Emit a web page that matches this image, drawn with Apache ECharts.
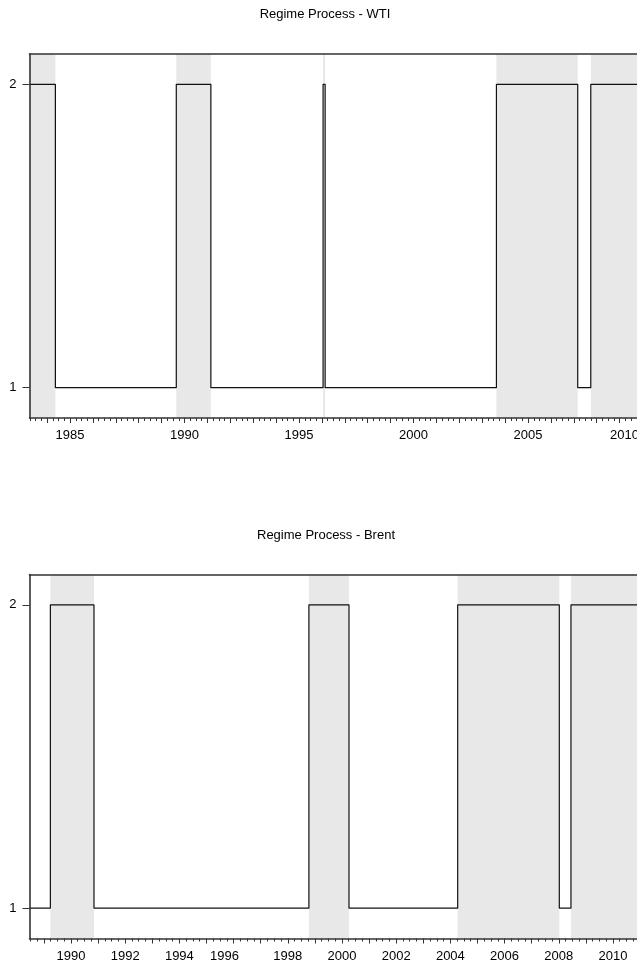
<!DOCTYPE html>
<html><head><meta charset="utf-8">
<script src="https://cdn.jsdelivr.net/npm/echarts@6/dist/echarts.min.js"></script>
<style>html,body{margin:0;padding:0;background:#fff;overflow:hidden}#c{width:700px;height:972px}</style>
</head><body><div id="c"></div>
<script>
// ---------------- data ----------------
const wtiTitle = 'Regime Process - WTI';
const brentTitle = 'Regime Process - Brent';
// decimal-year dates at which the regime switches, and the regime in force from that date on
const wtiSwitchYears = [1983.23, 1984.36, 1989.64, 1991.15, 1996.05, 1996.14, 2003.62, 2007.17, 2007.74];
const wtiRegimes     = [2, 1, 2, 1, 2, 1, 2, 1, 2];
const wtiEndYear = 2011.0;
const brentSwitchYears = [1988.47, 1989.24, 1990.85, 1998.78, 2000.26, 2004.27, 2008.02, 2008.45];
const brentRegimes     = [1, 2, 1, 2, 1, 2, 1, 2];
const brentEndYear = 2011.5;
const wtiTickLabels = [1985, 1990, 1995, 2000, 2005, 2010];
const brentTickLabels = [1990, 1992, 1994, 1996, 1998, 2000, 2002, 2004, 2006, 2008, 2010];
const yTickLabels = [1, 2];

// ---------------- helpers ----------------
function stepPoints(sw, rg, end) {
  const pts = sw.map((y, i) => [y, rg[i]]);
  pts.push([end, rg[rg.length - 1]]);
  return pts;
}
function shadeAreas(sw, rg, end) {
  const a = [];
  rg.forEach((r, i) => {
    if (r === 2) a.push([{ xAxis: sw[i] }, { xAxis: i + 1 < sw.length ? sw[i + 1] : end }]);
  });
  return a;
}
function years(a, b) { const o = []; for (let y = a; y <= b; y++) o.push(y); return o; }

const font = 'Liberation Sans, Arial, sans-serif';
const frame = { show: true, lineStyle: { color: '#333', width: 1.6 } };
const labelRich = {
  n: { fontFamily: font, fontSize: 13, color: '#000' },
  edge: { fontFamily: font, fontSize: 13, color: '#000', padding: [0, 36, 0, 0] },
  l9: { fontFamily: font, fontSize: 13, color: '#000', padding: [0, 18, 0, 0] }
};

function panel(idx, cfg) {
  const grid = { left: cfg.left, top: cfg.top, width: (cfg.max - cfg.min) * cfg.scale, height: 364, containLabel: false };
  const xb = {
    type: 'value', gridIndex: idx, position: 'bottom', min: cfg.min, max: cfg.max,
    minInterval: 1, maxInterval: 1, z: 10,
    axisLine: frame, splitLine: { show: false },
    axisTick: { show: true, length: 5, inside: false, lineStyle: { color: '#333', width: 1 },
      customValues: years(Math.ceil(cfg.min), Math.floor(cfg.max)) },
    minorTick: { show: true, splitNumber: 4, length: 3, lineStyle: { color: '#333', width: 1 } },
    axisLabel: { show: true, customValues: cfg.labels, color: '#000', fontFamily: font, fontSize: 13, margin: 11,
      rich: labelRich,
      formatter: v => { const y = Math.round(v); const k = cfg.labelShift[y] || 'n'; return '{' + k + '|' + y + '}'; } }
  };
  const xt = {
    type: 'value', gridIndex: idx, position: 'top', min: cfg.min, max: cfg.max, z: 10,
    axisLine: frame, axisTick: { show: false }, axisLabel: { show: false }, splitLine: { show: false }
  };
  const y = {
    type: 'value', gridIndex: idx, min: 0.9, max: 2.1, minInterval: 1, maxInterval: 1, z: 10,
    axisLine: frame, splitLine: { show: false },
    axisTick: { show: true, length: 7, lineStyle: { color: '#333', width: 1 }, customValues: yTickLabels },
    axisLabel: { show: true, customValues: yTickLabels, color: '#000', fontFamily: font, fontSize: 13, margin: 13 }
  };
  const shade = {
    type: 'line', xAxisIndex: idx * 2, yAxisIndex: idx, data: [], z: 1, silent: true,
    markArea: { silent: true, itemStyle: { color: '#e8e8e8' }, data: shadeAreas(cfg.sw, cfg.rg, cfg.max) }
  };
  const line = {
    type: 'line', xAxisIndex: idx * 2, yAxisIndex: idx, step: 'end', showSymbol: false, z: 3, silent: true,
    lineStyle: { color: '#111', width: 1.2 }, data: stepPoints(cfg.sw, cfg.rg, cfg.max)
  };
  const title = { text: cfg.title, left: cfg.titleX, top: cfg.titleY, textAlign: 'center',
    textStyle: { fontFamily: font, fontSize: 13, fontWeight: 'normal', color: '#000' } };
  return { grid, xAxes: [xb, xt], y, series: [shade, line], title };
}

const p1 = panel(0, { title: wtiTitle, titleX: 320, titleY: 3, left: 29.5, top: 54, min: wtiSwitchYears[0], max: wtiEndYear,
  scale: 22.9, sw: wtiSwitchYears, rg: wtiRegimes, labels: wtiTickLabels, labelShift: { 2010: 'edge' } });
const p2 = panel(1, { title: brentTitle, titleX: 321, titleY: 524, left: 29.5, top: 574.5, min: brentSwitchYears[0], max: brentEndYear,
  scale: 27.1, sw: brentSwitchYears, rg: brentRegimes, labels: brentTickLabels, labelShift: { 1996: 'l9' } });

const chart = echarts.init(document.getElementById('c'), null, { renderer: 'canvas' });
chart.setOption({
  animation: false,
  backgroundColor: '#fff',
  title: [p1.title, p2.title],
  grid: [p1.grid, p2.grid],
  xAxis: [...p1.xAxes, ...p2.xAxes],
  yAxis: [p1.y, p2.y],
  series: [...p1.series, ...p2.series]
});
</script></body></html>
